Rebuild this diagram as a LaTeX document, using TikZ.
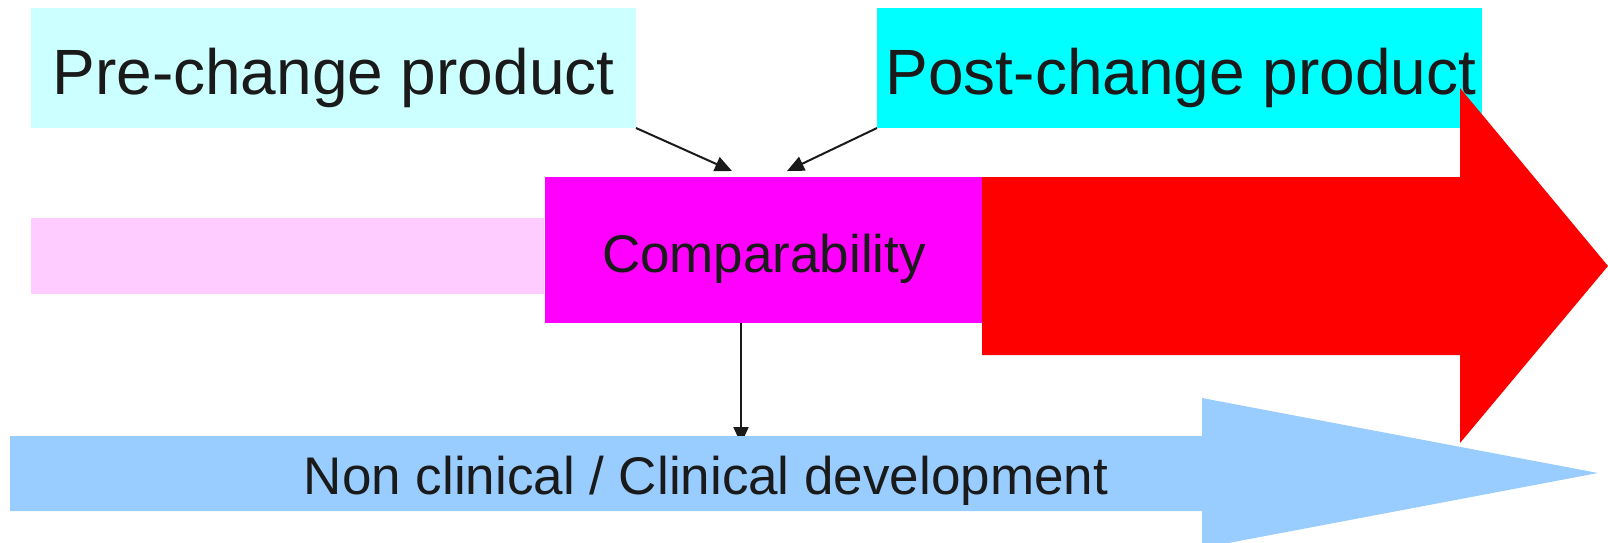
\documentclass[tikz,border=0pt]{standalone}
\usepackage{fontspec}
\setmainfont{Liberation Sans}
\usetikzlibrary{arrows.meta}
\definecolor{precol}{HTML}{CCFFFF}
\definecolor{postcol}{HTML}{00FFFF}
\definecolor{pinkcol}{HTML}{FFCCFF}
\definecolor{magcol}{HTML}{FF00FF}
\definecolor{redcol}{HTML}{FF0000}
\definecolor{bluecol}{HTML}{99CCFF}
\definecolor{inkcol}{HTML}{1A1A1A}
\begin{document}
\begin{tikzpicture}[x=1pt,y=-1pt,
  box/.style={draw=none,inner sep=0pt,outer sep=0pt},
  bigtxt/.style={inner sep=0pt,text=inkcol,font=\fontsize{64}{77}\selectfont},
  midtxt/.style={inner sep=0pt,text=inkcol,font=\fontsize{53}{64}\selectfont},
  conn/.style={draw=inkcol,line width=2pt,-{Triangle[length=17pt,width=15pt]}}]
\useasboundingbox (0,0) rectangle (1608,542);
\clip (0,0) rectangle (1608,542);
% boxes
\node[box,fill=pinkcol,minimum width=513pt,minimum height=76pt] (pink) at (287.5,256) {};
\node[box,fill=magcol,minimum width=439pt,minimum height=146pt] (mag) at (764.5,250) {};
\node[box,fill=precol,minimum width=605pt,minimum height=120pt] (pre) at (333.5,68) {};
\node[box,fill=postcol,minimum width=605pt,minimum height=120pt] (post) at (1179.5,68) {};
% red arrow
\fill[redcol] (982,177) coordinate (r1) -- (1460,177) -- (1460,88) -- (1608,266) coordinate (rtip)
  -- (1460,443) -- (1460,355) -- (982,355) -- cycle;
% connectors
\coordinate (a1) at (732,171);
\coordinate (a2) at (787,171);
\coordinate (vt) at (741,444);
\draw[conn] (pre.south east) -- (a1);
\draw[conn] (post.south west) -- (a2);
\draw[conn] (mag.south -| vt) -- (vt);
% blue arrow
\fill[bluecol] (10,436) coordinate (b1) -- (1202,436) -- (1202,398) -- (1598,473) coordinate (btip)
  -- (1202,548) -- (1202,511) -- (10,511) -- cycle;
% texts
\node[bigtxt,anchor=base] (pretext) at (333.5,94) {Pre-change product};
\node[bigtxt,anchor=base] (posttext) at (1181,94) {Post-change product};
\node[midtxt,anchor=base] (magtext) at (764,272) {Comparability};
\node[midtxt,anchor=base] (bluetext) at (706,494) {Non clinical / Clinical development};
\end{tikzpicture}
\end{document}
